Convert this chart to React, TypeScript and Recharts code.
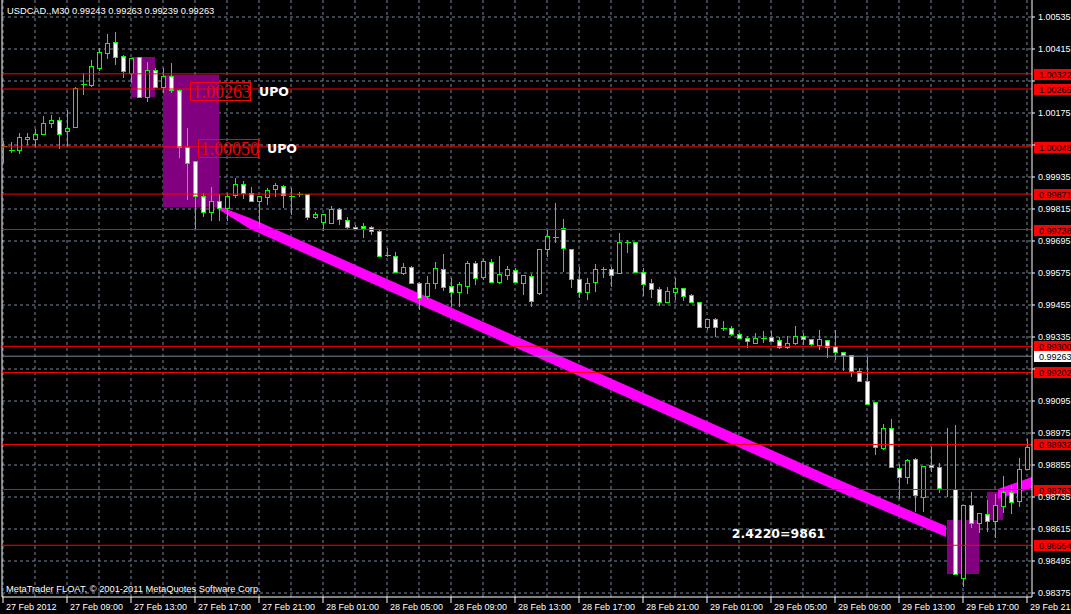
import React from 'react';
import {
  ComposedChart,
  Bar,
  Area,
  XAxis,
  YAxis,
  CartesianGrid,
  ReferenceLine,
  ReferenceArea,
  ReferenceDot,
} from 'recharts';

// ---------- DATA ----------
const opens = [
  1.00051, 1.00036, 1.00036, 1.00076, 1.00076, 1.00095, 1.00136, 1.00149, 1.00108, 1.00124,
  1.00283, 1.0028, 1.00343, 1.00399, 1.0044, 1.00389, 1.00326, 1.00384, 1.00236, 1.00336,
  1.00274, 1.00314, 1.00261, 1.00049, 0.99995, 0.99864, 0.99805, 0.99845, 0.99818, 0.99868,
  0.99909, 0.99876, 0.99846, 0.99859, 0.99889, 0.99901, 0.99864, 0.9987, 0.9987, 0.99784,
  0.99767, 0.99764, 0.99814, 0.99774, 0.99746, 0.99751, 0.99746, 0.99734, 0.99643, 0.9964,
  0.99576, 0.99596, 0.99539, 0.99487, 0.99539, 0.99589, 0.99526, 0.99505, 0.99527, 0.99611,
  0.99559, 0.99615, 0.99542, 0.99567, 0.99586, 0.99539, 0.99564, 0.99499, 0.99664, 0.99709,
  0.99743, 0.99664, 0.99551, 0.99505, 0.99542, 0.99589, 0.99589, 0.99574, 0.9969, 0.9969,
  0.99578, 0.99536, 0.99514, 0.99467, 0.99505, 0.99518, 0.99491, 0.99465, 0.99374, 0.99401,
  0.9937, 0.99368, 0.99345, 0.9933, 0.99314, 0.99332, 0.99334, 0.99324, 0.99299, 0.99314,
  0.99339, 0.99326, 0.99305, 0.99324, 0.99303, 0.99278, 0.99266, 0.99209, 0.99171, 0.9909,
  0.98918, 0.98993, 0.98843, 0.98809, 0.98876, 0.98736, 0.98855, 0.98846, 0.98766, 0.98766,
  0.9843, 0.98705, 0.98639, 0.98671, 0.98646, 0.98702, 0.98753, 0.9872, 0.98839,
];
const highs = [
  1.0007, 1.00067, 1.00099, 1.00099, 1.00114, 1.00164, 1.00168, 1.00159, 1.00186, 1.00274,
  1.00326, 1.00374, 1.00418, 1.00471, 1.0048, 1.00393, 1.0038, 1.00384, 1.00367, 1.00343,
  1.00343, 1.00361, 1.00264, 1.00118, 0.99995, 0.99876, 0.99899, 0.99871, 0.99876, 0.9993,
  0.99921, 0.99896, 0.99864, 0.99893, 0.99911, 0.99905, 0.99893, 0.9988, 0.9987, 0.99805,
  0.99796, 0.99826, 0.99818, 0.99784, 0.99755, 0.99761, 0.99751, 0.99736, 0.99668, 0.99655,
  0.99611, 0.99601, 0.99542, 0.99564, 0.99617, 0.99646, 0.99555, 0.99542, 0.99621, 0.99621,
  0.99626, 0.99626, 0.99639, 0.99601, 0.99593, 0.99567, 0.99571, 0.99664, 0.99739, 0.99838,
  0.99776, 0.99664, 0.99599, 0.99555, 0.99609, 0.99596, 0.99599, 0.99726, 0.99699, 0.99692,
  0.99593, 0.99551, 0.99521, 0.99521, 0.99555, 0.99518, 0.99496, 0.99465, 0.99401, 0.99405,
  0.99395, 0.99376, 0.99349, 0.99339, 0.99349, 0.99357, 0.99357, 0.99334, 0.99339, 0.99376,
  0.99351, 0.99326, 0.99361, 0.99324, 0.99361, 0.99278, 0.99266, 0.99218, 0.99261, 0.99093,
  0.99009, 0.99026, 0.98859, 0.98876, 0.9888, 0.98852, 0.98924, 0.98861, 0.98993, 0.99005,
  0.98705, 0.98755, 0.98674, 0.98724, 0.98746, 0.98814, 0.98777, 0.98882, 0.98951,
];
const lows = [
  0.99988, 1.00025, 1.00021, 1.00055, 1.00043, 1.00095, 1.00118, 1.00039, 1.00046, 1.00124,
  1.00243, 1.00274, 1.00334, 1.00376, 1.00355, 1.00305, 1.00286, 1.0023, 1.00217, 1.00274,
  1.00249, 1.00249, 1.00005, 0.99849, 0.99739, 0.99784, 0.99771, 0.99771, 0.99771, 0.99855,
  0.99851, 0.99842, 0.99743, 0.9983, 0.99859, 0.99818, 0.99793, 0.99859, 0.99774, 0.99776,
  0.99734, 0.99761, 0.99755, 0.99739, 0.99736, 0.99707, 0.99718, 0.99636, 0.99634, 0.99576,
  0.99567, 0.99536, 0.99436, 0.99474, 0.99514, 0.99509, 0.99449, 0.99449, 0.99496, 0.9953,
  0.99548, 0.99542, 0.99534, 0.99548, 0.99539, 0.99493, 0.99449, 0.99493, 0.99634, 0.99686,
  0.9958, 0.9952, 0.9948, 0.99474, 0.99505, 0.99555, 0.99524, 0.99574, 0.99649, 0.99576,
  0.99487, 0.9948, 0.99451, 0.99461, 0.99474, 0.99471, 0.99464, 0.99368, 0.99361, 0.99336,
  0.99359, 0.9934, 0.9933, 0.99295, 0.99314, 0.99314, 0.99317, 0.99289, 0.99289, 0.99305,
  0.99305, 0.99299, 0.99286, 0.99255, 0.99247, 0.99209, 0.99186, 0.99167, 0.9908, 0.98893,
  0.98911, 0.98846, 0.98726, 0.98784, 0.9868, 0.9868, 0.9883, 0.98749, 0.98734, 0.98443,
  0.98399, 0.98618, 0.98601, 0.98605, 0.9858, 0.98676, 0.98671, 0.98699, 0.98839,
];
const closes = [
  1.00051, 1.00036, 1.00084, 1.00084, 1.00095, 1.00136, 1.00149, 1.00095, 1.00118, 1.00268,
  1.00283, 1.00351, 1.00403, 1.00436, 1.00384, 1.00334, 1.0038, 1.00236, 1.00336, 1.00274,
  1.00314, 1.00261, 1.00049, 0.99989, 0.99864, 0.99805, 0.99845, 0.99818, 0.99864, 0.99909,
  0.99876, 0.99846, 0.99864, 0.99886, 0.99905, 0.99868, 0.99864, 0.9987, 0.99784, 0.99796,
  0.99796, 0.99814, 0.99776, 0.99746, 0.99739, 0.99743, 0.99734, 0.9964, 0.99643, 0.9958,
  0.99596, 0.99539, 0.99482, 0.99536, 0.99593, 0.99521, 0.99505, 0.99534, 0.99611, 0.99555,
  0.9962, 0.99542, 0.9957, 0.99589, 0.99542, 0.99567, 0.9947, 0.99664, 0.99714, 0.99709,
  0.99668, 0.99551, 0.99505, 0.99539, 0.99589, 0.99589, 0.99567, 0.99692, 0.9969, 0.99578,
  0.99533, 0.99514, 0.99467, 0.99508, 0.99518, 0.9949, 0.99467, 0.99374, 0.99401, 0.99374,
  0.9937, 0.99345, 0.99332, 0.9932, 0.9933, 0.99332, 0.99321, 0.99296, 0.99311, 0.99339,
  0.99326, 0.99309, 0.99326, 0.99296, 0.99277, 0.99266, 0.99209, 0.99171, 0.99083, 0.98921,
  0.98993, 0.98849, 0.98809, 0.98874, 0.98742, 0.98852, 0.98846, 0.98768, 0.98766, 0.98445,
  0.98705, 0.98639, 0.98674, 0.98646, 0.98705, 0.98753, 0.98717, 0.98839, 0.98921,
];

const timeLabels = [
  '27 Feb 2012', '27 Feb 09:00', '27 Feb 13:00', '27 Feb 17:00', '27 Feb 21:00',
  '28 Feb 01:00', '28 Feb 05:00', '28 Feb 09:00', '28 Feb 13:00', '28 Feb 17:00',
  '28 Feb 21:00', '29 Feb 01:00', '29 Feb 05:00', '29 Feb 09:00', '29 Feb 13:00',
  '29 Feb 17:00', '29 Feb 21:00',
];
const labelBars = [0, 8, 16, 24, 32, 40, 48, 56, 64, 72, 80, 88, 96, 104, 112, 120, 128];
const gridBars = [
  0, 4, 8, 12, 16, 20, 24, 28, 32, 36, 40, 44, 48, 52, 56, 60, 64, 68, 72, 76, 80, 84, 88,
  92, 96, 100, 104, 108, 112, 116, 120, 124, 128,
];
const priceTicks = [
  1.00535, 1.00415, 1.00295, 1.00175, 1.00055, 0.99935, 0.99815, 0.99695, 0.99575, 0.99455,
  0.99335, 0.99215, 0.99095, 0.98975, 0.98855, 0.98735, 0.98615, 0.98495, 0.98375,
];
const hiddenPriceTicks = [1.00295, 1.00055, 0.99215];
const redLevels = [
  1.00322, 1.00265, 1.00048, 0.99871, 0.99738, 0.993, 0.99202, 0.98932, 0.98763, 0.98554,
];
const bidPrice = 0.99263;

const boxes = [
  { x1: 16, x2: 19, y1: 1.00235, y2: 1.00385 },
  { x1: 20, x2: 27, y1: 0.99822, y2: 1.00318 },
  { x1: 118, x2: 122, y1: 0.98446, y2: 0.98649 },
  { x1: 123, x2: 125, y1: 0.98649, y2: 0.98754 },
];
const bandMain = [
  { i: 26.875, band: [0.99815, 0.99826] },
  { i: 30.875, band: [0.9974, 0.99781] },
  { i: 103.375, band: [0.98769, 0.98814] },
  { i: 117.875, band: [0.98585, 0.98626] },
];
const bandRight = [
  { i: 124.375, band: [0.98728, 0.98765] },
  { i: 128.625, band: [0.98769, 0.9881] },
];
const upoNotes = [
  { i: 23.375, p: 1.00256, text: '1.00263', tag: 'UPO' },
  { i: 24.375, p: 1.00044, text: '1.00050', tag: 'UPO' },
];
const ratioNote = { i: 91.1, p: 0.98581, text: '2.4220=9861' };

const titleText = 'USDCAD.,M30  0.99243 0.99263 0.99239 0.99263';
const copyrightText = 'MetaTrader FLOAT, \u00A9 2001-2011 MetaQuotes Software Corp.';

const candles = opens.map((o, k) => ({
  i: k,
  open: o,
  high: highs[k],
  low: lows[k],
  close: closes[k],
  range: [lows[k], highs[k]],
}));

// ---------- STYLE ----------
const SANS = '"Liberation Sans", Arial, sans-serif';
const LIME = '#00ff00';
const RED = '#ff0000';
const GRID = '#778899';

const Candle = (props: any) => {
  const { x, y, width, height, payload } = props;
  if (x == null || y == null || !payload) return <g />;
  const cx = Math.round(x + width / 2) + 0.5;
  const top = Math.min(y, y + height);
  const h = Math.abs(height);
  const { open, high, low, close } = payload;
  const py = (p: number) => (high === low ? top : top + ((high - p) / (high - low)) * h);
  const yo = py(open);
  const yc = py(close);
  const bTop = Math.round(Math.min(yo, yc)) + 0.5;
  const bBot = Math.round(Math.max(yo, yc)) + 0.5;
  return (
    <g shapeRendering="crispEdges">
      <line x1={cx} x2={cx} y1={top} y2={top + h} stroke={LIME} strokeWidth={1} />
      {open === close || bBot - bTop < 1 ? (
        <line x1={cx - 3} x2={cx + 3} y1={bTop} y2={bTop} stroke={LIME} strokeWidth={1} />
      ) : (
        <rect
          x={cx - 2}
          y={bTop}
          width={4}
          height={bBot - bTop}
          fill={close > open ? '#000000' : '#ffffff'}
          stroke={LIME}
          strokeWidth={1}
        />
      )}
    </g>
  );
};

const PriceTick = (props: any) => {
  const { x, y, payload } = props;
  const v = payload && payload.value;
  if (v == null || hiddenPriceTicks.indexOf(v) >= 0) return <g />;
  return (
    <text x={x} y={y} dy="0.35em" fill="#ffffff" fontSize={9} fontFamily={SANS} textAnchor="start">
      {Number(v).toFixed(5)}
    </text>
  );
};

const TimeTick = (props: any) => {
  const { x, y, payload } = props;
  const idx = labelBars.indexOf(payload && payload.value);
  if (idx < 0) return <g />;
  return (
    <text x={x + 3} y={y + 7} fill="#ffffff" fontSize={9} fontFamily={SANS} textAnchor="start">
      {timeLabels[idx]}
    </text>
  );
};

const Tag = (props: any) => {
  const { viewBox, text, bg, fg } = props;
  if (!viewBox) return <g />;
  const left = viewBox.x + viewBox.width + 2;
  const cy = Math.round(viewBox.y);
  return (
    <g>
      <rect x={left} y={cy - 5} width={40} height={11} fill={bg} shapeRendering="crispEdges" />
      <text x={left + 5} y={cy + 0.5} dy="0.35em" fill={fg} fontSize={9} fontFamily={SANS}>
        {text}
      </text>
    </g>
  );
};

const BoxNote = (props: any) => {
  const { cx, cy, text, tag } = props;
  if (cx == null || cy == null) return <g />;
  return (
    <g>
      <rect x={cx + 0.5} y={cy - 8.5} width={60} height={18} fill="none" stroke={RED} strokeWidth={1} shapeRendering="crispEdges" />
      <text x={cx + 2.5} y={cy + 7} fill="#ee0000" fontSize={18} fontFamily='"Liberation Serif", serif'>
        {text}
      </text>
      <text x={cx + 69} y={cy + 5} fill="#ffffff" fontSize={12.5} fontWeight="bold" fontFamily='"DejaVu Sans", sans-serif'>
        {tag}
      </text>
    </g>
  );
};

const RatioNote = (props: any) => {
  const { cx, cy } = props;
  if (cx == null || cy == null) return <g />;
  return (
    <text x={cx} y={cy} fill="#ffffff" fontSize={12.5} fontWeight="bold" fontFamily='"DejaVu Sans", sans-serif'>
      {ratioNote.text}
    </text>
  );
};

export default function App() {
  return (
    <div
      style={{
        position: 'absolute',
        left: 0,
        top: 0,
        width: 1071,
        height: 614,
        background: '#000000',
        overflow: 'hidden',
        fontFamily: SANS,
      }}
    >
      <ComposedChart width={1071} height={614} data={candles} margin={{ top: 0, right: 0, bottom: 0, left: 2 }}>
        <CartesianGrid
          stroke={GRID}
          strokeDasharray="3 3"
          horizontalValues={priceTicks}
          verticalValues={gridBars}
        />
        <XAxis
          dataKey="i"
          type="number"
          domain={[-0.125, 128.625]}
          allowDataOverflow
          ticks={labelBars}
          interval={0}
          tick={<TimeTick />}
          tickSize={6}
          tickMargin={0}
          height={17}
          axisLine={{ stroke: '#ffffff' }}
          tickLine={{ stroke: '#ffffff' }}
        />
        <YAxis
          orientation="right"
          type="number"
          domain={[0.9836, 1.0059875]}
          allowDataOverflow
          ticks={priceTicks}
          interval={0}
          tick={<PriceTick />}
          tickSize={3}
          tickMargin={3}
          width={39}
          axisLine={{ stroke: '#ffffff' }}
          tickLine={{ stroke: '#ffffff' }}
        />
        {boxes.map((b, k) => (
          <ReferenceArea
            key={'box' + k}
            x1={b.x1}
            x2={b.x2}
            y1={b.y1}
            y2={b.y2}
            fill="#800080"
            fillOpacity={1}
            stroke="none"
          />
        ))}
        <Area
          data={bandMain}
          dataKey="band"
          type="linear"
          stroke="none"
          fill="#ff00ff"
          fillOpacity={1}
          dot={false}
          activeDot={false}
          isAnimationActive={false}
        />
        <Area
          data={bandRight}
          dataKey="band"
          type="linear"
          stroke="none"
          fill="#ff00ff"
          fillOpacity={1}
          dot={false}
          activeDot={false}
          isAnimationActive={false}
        />
        <Bar dataKey="range" barSize={5} shape={<Candle />} isAnimationActive={false} />
        <ReferenceLine x={-0.125} stroke="#ffffff" />
        {redLevels.map((lv) => (
          <ReferenceLine
            key={'r' + lv}
            y={lv}
            stroke={RED}
            strokeWidth={1}
            label={<Tag text={lv.toFixed(5)} bg={RED} fg="#000000" />}
          />
        ))}
        <ReferenceLine
          y={bidPrice}
          stroke={GRID}
          strokeWidth={1}
          label={<Tag text={bidPrice.toFixed(5)} bg="#ffffff" fg="#000000" />}
        />
        {upoNotes.map((n) => (
          <ReferenceDot
            key={n.text}
            x={n.i}
            y={n.p}
            r={0}
            shape={(p: any) => <BoxNote cx={p.cx} cy={p.cy} text={n.text} tag={n.tag} />}
          />
        ))}
        <ReferenceDot
          x={ratioNote.i}
          y={ratioNote.p}
          r={0}
          shape={(p: any) => <RatioNote cx={p.cx} cy={p.cy} />}
        />
      </ComposedChart>
      <svg
        width={1071}
        height={614}
        style={{ position: 'absolute', left: 0, top: 0, pointerEvents: 'none' }}
      >
        <text x={7} y={14} fill="#ffffff" fontSize={9.3} fontFamily={SANS}>
          {titleText}
        </text>
        <text x={6} y={592} fill="#ffffff" fontSize={9.3} fontFamily={SANS}>
          {copyrightText}
        </text>
      </svg>
    </div>
  );
}
